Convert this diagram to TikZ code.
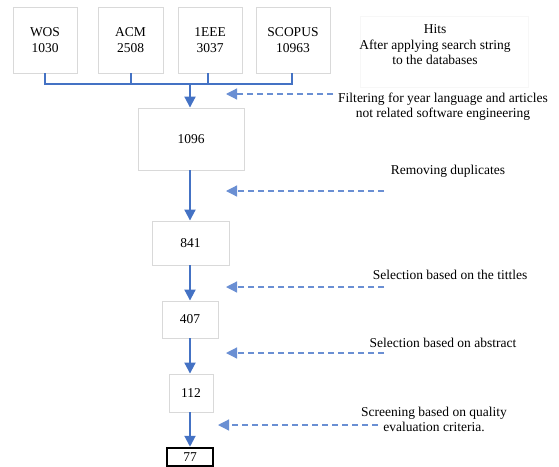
\documentclass[tikz,border=0pt]{standalone}
\usepackage{fontspec}
\setmainfont{Liberation Serif}
\usetikzlibrary{arrows.meta}
\definecolor{flowblue}{HTML}{4472C4}
\definecolor{dashblue}{HTML}{6A8FD3}
\definecolor{boxgray}{HTML}{D9D9D9}
\begin{document}
\begin{tikzpicture}[x=1pt,y=-1pt,
  every node/.style={font=\fontsize{13.5}{15.5}\selectfont, inner sep=0pt, align=center},
  gbox/.style={draw=boxgray, line width=0.9pt, fill=white},
  flow/.style={draw=flowblue, line width=2pt, -{Triangle[length=11pt,width=11pt]}},
  plain/.style={draw=flowblue, line width=2pt},
  note/.style={draw=dashblue, line width=1.2pt, dash pattern=on 6pt off 4pt, -{Triangle[length=11pt,width=11pt]}},
  lbl/.style={}]
\useasboundingbox (0,0) rectangle (559,466);
% top boxes
\node[gbox, minimum width=64pt, minimum height=66pt] (wos) at (45,40) {WOS\\1030};
\node[gbox, minimum width=65pt, minimum height=66pt] (acm) at (130.5,40) {ACM\\2508};
\node[gbox, minimum width=64pt, minimum height=66pt] (ieee) at (210,40) {1EEE\\3037};
\node[gbox, minimum width=74pt, minimum height=66pt] (scopus) at (293,40) {SCOPUS\\10963};
\node[draw=black!3, line width=0.6pt, minimum width=168pt, minimum height=71pt] (hits) at (444,51.5) {};
\node (hitstxt) at (435,45) {Hits\\After applying search string\\to the databases};
% flow boxes
\node[gbox, minimum width=106pt, minimum height=62pt] (b1096) at (191,139) {1096};
\node[gbox, minimum width=77pt, minimum height=44pt] (b841) at (190.5,243) {841};
\node[gbox, minimum width=56pt, minimum height=37pt] (b407) at (190,319.5) {407};
\node[gbox, minimum width=44pt, minimum height=38pt] (b112) at (191,393) {112};
\node[draw=black, line width=2.5pt, minimum width=46pt, minimum height=18pt] (b77) at (190,457) {77};
% bracket
\coordinate (bw) at (45,84);
\coordinate (bs) at (292,84);
\coordinate (bj) at (190,84);
\draw[plain] (wos.south -| bw) -- (bw) -- (bs) -- (scopus.south -| bs);
\draw[plain] (acm.south) -- (acm.south |- bw);
\draw[plain] (ieee.south -| 208,0) -- (208,84);
\draw[flow] (bj) -- (b1096.north -| bj);
% vertical flows
\draw[flow] (b1096.south -| 190,0) -- (b841.north -| 190,0);
\draw[flow] (b841.south -| 190,0) -- (b407.north -| 190,0);
\draw[flow] (b407.south -| 190,0) -- (b112.north -| 190,0);
\draw[flow] (b112.south -| 190,0) -- (b77.north);
% notes
\node (n1) at (443,106.5) {Filtering for year language and articles\\not related software engineering};
\node (n2) at (448,171) {Removing duplicates};
\node (n3) at (450,275) {Selection based on the tittles};
\node (n4) at (443,343) {Selection based on abstract};
\node (n5) at (434,419.5) {Screening based on quality\\evaluation criteria.};
\coordinate (d1) at (333,94);
\coordinate (d2) at (384,191);
\coordinate (d3) at (384,287);
\coordinate (d4) at (384,353);
\coordinate (d5) at (378,425);
\draw[note] (d1) -- (226,94);
\draw[note] (d2) -- (226,191);
\draw[note] (d3) -- (226,287);
\draw[note] (d4) -- (226,353);
\draw[note] (d5) -- (218,425);
\end{tikzpicture}
\end{document}
